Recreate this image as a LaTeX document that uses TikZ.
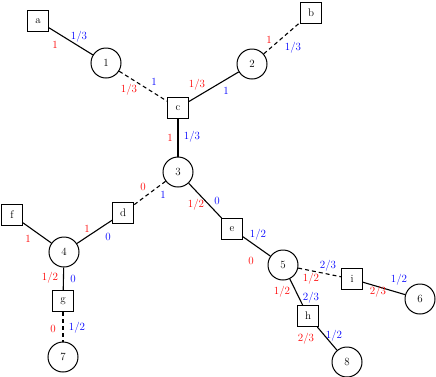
\documentclass[tikz,border=0pt]{standalone}
\begin{document}
\begin{tikzpicture}[x=1pt,y=-1pt,
  font=\fontsize{11}{13}\selectfont,
  vtx/.style={draw,circle,line width=1pt,minimum size=30pt,inner sep=0pt},
  fac/.style={draw,rectangle,line width=1pt,minimum size=21pt,inner sep=0pt},
  ed/.style={line width=1.1pt},
  ded/.style={line width=1.1pt,dash pattern=on 4pt off 3pt},
  rl/.style={text=red,inner sep=0pt},
  bl/.style={text=blue,inner sep=0pt}]
\useasboundingbox (0,0) rectangle (436,376);
% nodes
\node[fac] (a) at (38,21) {a};
\node[fac] (b) at (311,13) {b};
\node[vtx] (n1) at (106,63) {1};
\node[vtx] (n2) at (252,64) {2};
\node[fac] (c) at (178,108) {c};
\node[vtx] (n3) at (178,172) {3};
\node[fac] (d) at (123,213) {d};
\node[fac] (f) at (12,215) {f};
\node[vtx] (n4) at (64,252) {4};
\node[fac] (e) at (232,229) {e};
\node[vtx] (n5) at (283,265) {5};
\node[fac] (i) at (352,279) {i};
\node[vtx] (n6) at (420,299) {6};
\node[fac] (g) at (63,301) {g};
\node[fac] (h) at (308,316) {h};
\node[vtx] (n7) at (63,357) {7};
\node[vtx] (n8) at (347,362) {8};
% edges
\draw[ed] (a) -- (n1);
\draw[ded] (n1) -- (c);
\draw[ed] (c) -- (n2);
\draw[ded] (n2) -- (b);
\draw[ed] (c) -- (n3);
\draw[ded] (n3) -- (d);
\draw[ed] (n3) -- (e);
\draw[ed] (d) -- (n4);
\draw[ed] (f) -- (n4);
\draw[ed] (n4) -- (g);
\draw[ded] (g) -- (n7);
\draw[ed] (e) -- (n5);
\draw[ded] (n5) -- (i);
\draw[ed] (i) -- (n6);
\draw[ed] (n5) -- (h);
\draw[ed] (h) -- (n8);
% labels
\node[rl] (r1) at (55,45) {1};
\node[bl] (b1) at (79,37) {1/3};
\node[rl] (r2) at (129,90) {1/3};
\node[bl] (b2) at (154,82) {1};
\node[rl] (r3) at (197,85) {1/3};
\node[bl] (b3) at (226,91) {1};
\node[rl] (r4) at (269,40) {1};
\node[bl] (b4) at (293,48) {1/3};
\node[rl] (r5) at (170,138) {1};
\node[bl] (b5) at (192,137) {1/3};
\node[rl] (r6) at (143,187) {0};
\node[bl] (b6) at (163,195) {1};
\node[rl] (r7) at (196,205) {1/2};
\node[bl] (b7) at (217,201) {0};
\node[rl] (r8) at (87,229) {1};
\node[bl] (b8) at (108,237) {0};
\node[rl] (r9) at (28,239) {1};
\node[rl] (r10) at (50,278) {1/2};
\node[bl] (b10) at (73,279) {0};
\node[rl] (r11) at (53,329) {0};
\node[bl] (b11) at (77,328) {1/2};
\node[bl] (b12) at (258,235) {1/2};
\node[rl] (r12) at (251,261) {0};
\node[bl] (b13) at (328,266) {2/3};
\node[rl] (r13) at (311,279) {1/2};
\node[bl] (b14) at (399,280) {1/2};
\node[rl] (r14) at (378,292) {2/3};
\node[rl] (r15) at (282,292) {1/2};
\node[bl] (b15) at (311,298) {2/3};
\node[rl] (r16) at (306,339) {2/3};
\node[bl] (b16) at (334,336) {1/2};
\end{tikzpicture}
\end{document}
